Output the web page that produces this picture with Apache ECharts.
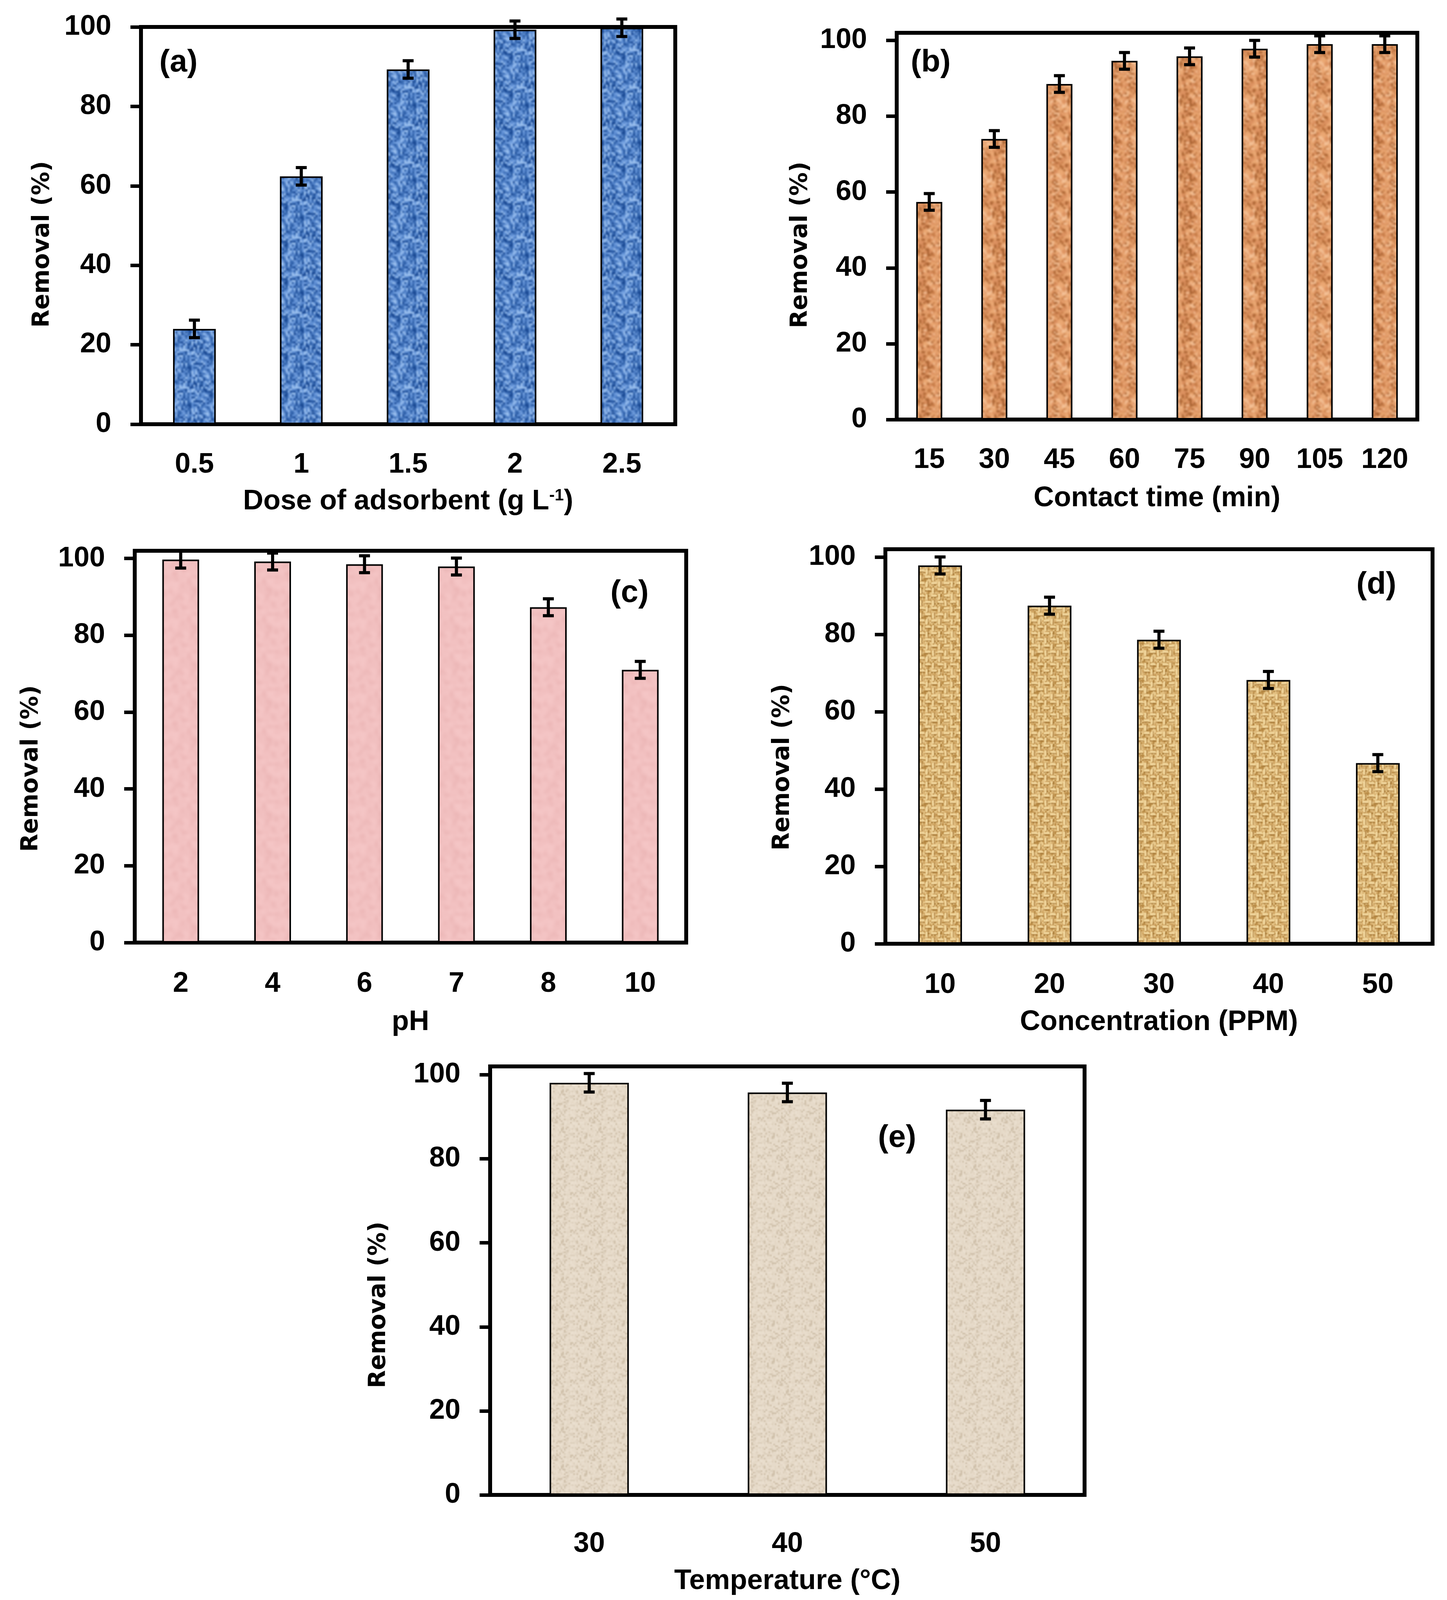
<!DOCTYPE html>
<html>
<head>
<meta charset="utf-8">
<script src="https://cdn.jsdelivr.net/npm/echarts@6/dist/echarts.min.js"></script>
<style>
html, body { margin: 0; padding: 0; background: #fff; }
#Chart { width: 3705px; height: 4146px; }
</style>
</head>
<body>
<div id="Chart"></div>
<script>
// (a) dose of adsorbent
var doseCats = ['0.5', '1', '1.5', '2', '2.5'];
var doseRemoval = [24.0, 62.4, 89.3, 99.3, 99.8];
var doseErr = [2.2, 2.2, 2.2, 2.2, 2.2];
// (b) contact time
var timeCats = ['15', '30', '45', '60', '75', '90', '105', '120'];
var timeRemoval = [57.4, 74.0, 88.5, 94.6, 95.8, 97.8, 99.0, 99.0];
var timeErr = [2.2, 2.2, 2.2, 2.2, 2.2, 2.2, 2.2, 2.2];
// (c) pH
var phCats = ['2', '4', '6', '7', '8', '10'];
var phRemoval = [99.7, 99.2, 98.5, 97.9, 87.3, 71.0];
var phErr = [2.2, 2.2, 2.2, 2.2, 2.2, 2.2];
// (d) concentration
var concCats = ['10', '20', '30', '40', '50'];
var concRemoval = [97.8, 87.4, 78.6, 68.2, 46.7];
var concErr = [2.2, 2.2, 2.2, 2.2, 2.2];
// (e) temperature
var tempCats = ['30', '40', '50'];
var tempRemoval = [98.1, 95.8, 91.7];
var tempErr = [2.2, 2.2, 2.2];

var yTicks = [0, 20, 40, 60, 80, 100];

var LABEL_FONT = '"Liberation Sans", Arial, sans-serif';
var TITLE_FONT = '"DejaVu Sans", Verdana, sans-serif';

// little tiled textures for the bar fills (style only, not data)
function hash(x, y, s) {
    var v = Math.sin(x * 12.9898 + y * 78.233 + s * 37.719) * 43758.5453;
    return v - Math.floor(v);
}

function makeTexture(size, cell, palette, seed, blur, weave) {
    var raw = document.createElement('canvas');
    raw.width = size; raw.height = size;
    var ctx = raw.getContext('2d');
    for (var y = 0; y < size; y += cell) {
        for (var x = 0; x < size; x += cell) {
            var n = hash(x, y, seed);
            ctx.fillStyle = palette[Math.floor(n * palette.length)];
            ctx.fillRect(x, y, cell, cell);
        }
    }
    if (weave) {
        // basket weave strokes
        var w = weave.step;
        for (var j = 0; j < size / w; j++) {
            for (var i = 0; i < size / w; i++) {
                ctx.fillStyle = weave.light;
                if ((i + j) % 2 === 0) {
                    ctx.fillRect(i * w + 1, j * w + 2, w - 2, w / 2 - 3);
                    ctx.fillStyle = weave.dark;
                    ctx.fillRect(i * w, j * w + w / 2, w, 2);
                } else {
                    ctx.fillRect(i * w + 2, j * w + 1, w / 2 - 3, w - 2);
                    ctx.fillStyle = weave.dark;
                    ctx.fillRect(i * w + w / 2, j * w, 2, w);
                }
            }
        }
    }
    var big = document.createElement('canvas');
    big.width = size * 3; big.height = size * 3;
    var bctx = big.getContext('2d');
    for (var a = 0; a < 3; a++) {
        for (var b = 0; b < 3; b++) {
            bctx.drawImage(raw, a * size, b * size);
        }
    }
    var out = document.createElement('canvas');
    out.width = size; out.height = size;
    var octx = out.getContext('2d');
    octx.filter = 'blur(' + blur + 'px)';
    octx.drawImage(big, -size, -size);
    return out;
}

var blueTex = makeTexture(96, 5, ['#9cc1ef', '#7aa6e3', '#5e8ed3', '#5e8ed3', '#3f70b8', '#285aa3', '#184792'], 1, 2);
var orangeTex = makeTexture(96, 5, ['#f4c095', '#eaa772', '#eaa772', '#dc9160', '#dc9160', '#c57a45', '#a65f2e'], 2, 2.5);
var pinkTex = makeTexture(96, 8, ['#f5c6c6', '#f0bdbd', '#f2c1c1', '#ebb5b5', '#f3c3c3'], 3, 4);
var tanTex = makeTexture(96, 4, ['#e9c98c', '#d8b172', '#cfa461', '#b88a45', '#e2bf80'], 4, 1.2,
    {step: 16, light: '#f0d59c', dark: '#86592080'});
var beigeTex = makeTexture(96, 4, ['#eadfcf', '#e6dac9', '#e3d6c4', '#e8dccb', '#dccfbc', '#e6dac9', '#cfc0aa'], 5, 1.5);

var Chart = echarts.init(document.getElementById('Chart'));

var panels = [
    {cats: doseCats, vals: doseRemoval, errs: doseErr, tex: blueTex, max: 100,
     xName: 'Dose of adsorbent (g L{sup|-1})', label: '(a)',
     grid: {left: 361, top: 69, width: 1368, height: 1017},
     xMargin: 68, xGap: 162, yGap: 222, yShift: 48, labelPos: [408, 167]},
    {cats: timeCats, vals: timeRemoval, errs: timeErr, tex: orangeTex, max: 102,
     xName: 'Contact time (min)', label: '(b)',
     grid: {left: 2296, top: 84, width: 1333, height: 990},
     xMargin: 68, xGap: 166, yGap: 216, yShift: 48, labelPos: [2332, 167]},
    {cats: phCats, vals: phRemoval, errs: phErr, tex: pinkTex, max: 102,
     xName: 'pH', label: '(c)',
     grid: {left: 345, top: 1410, width: 1412, height: 1003},
     xMargin: 70, xGap: 168, yGap: 235, yShift: 56, labelPos: [1563, 1525]},
    {cats: concCats, vals: concRemoval, errs: concErr, tex: tanTex, max: 102,
     xName: 'Concentration (PPM)', label: '(d)',
     grid: {left: 2267, top: 1406, width: 1401, height: 1010},
     xMargin: 70, xGap: 165, yGap: 233, yShift: 53, labelPos: [3473, 1504]},
    {cats: tempCats, vals: tempRemoval, errs: tempErr, tex: beigeTex, max: 102,
     xName: 'Temperature (°C)', label: '(e)',
     grid: {left: 1255, top: 2730, width: 1522, height: 1097},
     xMargin: 90, xGap: 185, yGap: 255, yShift: 62, labelPos: [2248, 2920]}
];

var grids = [], xAxes = [], yAxes = [], series = [], graphics = [];

panels.forEach(function (p, k) {
    grids.push({
        left: p.grid.left, top: p.grid.top, width: p.grid.width, height: p.grid.height,
        show: true, borderColor: '#000', borderWidth: 10, backgroundColor: 'transparent'
    });
    xAxes.push({
        gridIndex: k,
        type: 'category',
        data: p.cats,
        axisLine: {lineStyle: {color: '#000', width: 10}},
        axisTick: {alignWithLabel: true, length: 18, lineStyle: {color: '#000', width: 8}},
        axisLabel: {margin: p.xMargin, fontSize: 72, fontWeight: 'bold', fontFamily: LABEL_FONT, color: '#000'},
        name: p.xName,
        nameLocation: 'middle',
        nameGap: p.xGap,
        nameTextStyle: {
            fontSize: 72, fontWeight: 'bold', fontFamily: LABEL_FONT, color: '#000',
            rich: {sup: {fontSize: 42, fontWeight: 'bold', fontFamily: LABEL_FONT, color: '#000',
                         lineHeight: 42, padding: [0, 0, 30, 0]}}
        }
    });
    yAxes.push({
        gridIndex: k,
        type: 'value',
        min: 0,
        max: p.max,
        interval: 20,
        axisLine: {show: true, lineStyle: {color: '#000', width: 10}},
        axisTick: {show: true, length: 27, customValues: yTicks, lineStyle: {color: '#000', width: 9}},
        axisLabel: {customValues: yTicks, margin: 76, fontSize: 72, fontWeight: 'bold',
                    fontFamily: LABEL_FONT, color: '#000'},
        splitLine: {show: false},
        name: 'Removal (%)',
        nameLocation: 'middle',
        nameGap: p.yGap,
        nameRotate: 90,
        nameTextStyle: {fontSize: 60, fontWeight: 'bold', fontFamily: TITLE_FONT, color: '#000',
                        padding: [0, p.yShift * 2, 0, 0]}
    });
    series.push({
        type: 'bar',
        xAxisIndex: k,
        yAxisIndex: k,
        data: p.vals,
        barWidth: '40%',
        itemStyle: {color: {image: p.tex, repeat: 'repeat'}, borderColor: '#000', borderWidth: 4},
        silent: true
    });
    series.push({
        type: 'custom',
        xAxisIndex: k,
        yAxisIndex: k,
        silent: true,
        z: 10,
        encode: {x: 0, y: [1, 2]},
        data: p.vals.map(function (v, i) { return [i, v - p.errs[i], v + p.errs[i]]; }),
        renderItem: function (params, api) {
            var lo = api.coord([api.value(0), api.value(1)]);
            var hi = api.coord([api.value(0), api.value(2)]);
            var hw = 14;
            var st = {stroke: '#000', lineWidth: 8};
            return {
                type: 'group',
                children: [
                    {type: 'line', shape: {x1: lo[0], y1: lo[1], x2: hi[0], y2: hi[1]}, style: st},
                    {type: 'line', shape: {x1: lo[0] - hw, y1: lo[1], x2: lo[0] + hw, y2: lo[1]}, style: st},
                    {type: 'line', shape: {x1: hi[0] - hw, y1: hi[1], x2: hi[0] + hw, y2: hi[1]}, style: st}
                ]
            };
        }
    });
    graphics.push({
        type: 'text',
        left: p.labelPos[0],
        top: p.labelPos[1] - 46,
        style: {text: p.label, font: 'bold 80px ' + LABEL_FONT, fill: '#000'}
    });
});

var ChartOption = {
    animation: false,
    backgroundColor: '#fff',
    grid: grids,
    xAxis: xAxes,
    yAxis: yAxes,
    series: series,
    graphic: graphics
};

Chart.setOption(ChartOption);

window.addEventListener('resize', function () {
    Chart.resize();
});
</script>
</body>
</html>
